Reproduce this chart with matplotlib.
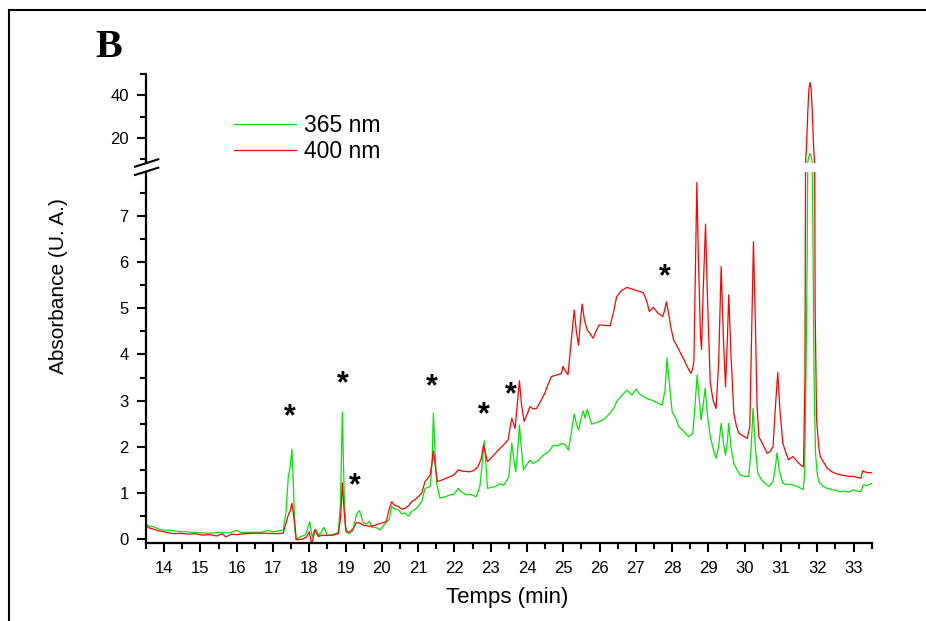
import matplotlib
matplotlib.use("Agg")
import matplotlib.pyplot as plt
from matplotlib.lines import Line2D
from matplotlib.patches import Rectangle
from matplotlib.ticker import MultipleLocator, FixedLocator

plt.rcParams["font.family"] = ["Liberation Sans", "DejaVu Sans"]

# chromatogram at 365 nm (green)
time_365 = [
    13.50, 13.60, 13.70, 13.85, 14.00, 14.20, 14.40, 14.60, 14.80, 15.00,
    15.20, 15.40, 15.60, 15.80, 16.00, 16.10, 16.40, 16.70, 16.85, 17.00,
    17.28, 17.36, 17.42, 17.47, 17.52, 17.56, 17.60, 17.63, 17.75, 17.90,
    18.01, 18.08, 18.17, 18.28, 18.40, 18.50, 18.65, 18.80, 18.86, 18.91,
    18.96, 19.00, 19.08, 19.20, 19.30, 19.38, 19.49, 19.58, 19.66, 19.72,
    19.85, 19.95, 20.05, 20.13, 20.20, 20.27, 20.35, 20.45, 20.55, 20.64,
    20.73, 20.82, 20.92, 21.00, 21.10, 21.19, 21.33, 21.38, 21.42, 21.47,
    21.51, 21.60, 21.75, 21.88, 22.00, 22.10, 22.20, 22.33, 22.45, 22.60,
    22.70, 22.76, 22.82, 22.87, 22.91, 23.00, 23.13, 23.25, 23.36, 23.50,
    23.55, 23.58, 23.64, 23.69, 23.74, 23.79, 23.84, 23.90, 24.00, 24.08,
    24.17, 24.30, 24.45, 24.60, 24.72, 24.85, 24.95, 25.05, 25.14, 25.22,
    25.30, 25.36, 25.42, 25.50, 25.55, 25.60, 25.66, 25.72, 25.78, 25.90,
    26.01, 26.15, 26.29, 26.40, 26.47, 26.60, 26.75, 26.89, 27.01, 27.10,
    27.21, 27.35, 27.44, 27.60, 27.72, 27.80, 27.86, 27.92, 28.00, 28.10,
    28.18, 28.30, 28.45, 28.57, 28.63, 28.69, 28.75, 28.80, 28.86, 28.91,
    28.97, 29.05, 29.15, 29.21, 29.28, 29.35, 29.41, 29.47, 29.52, 29.56,
    29.62, 29.70, 29.80, 29.88, 30.00, 30.11, 30.17, 30.23, 30.29, 30.36,
    30.45, 30.55, 30.66, 30.78, 30.85, 30.89, 30.95, 31.05, 31.15, 31.30,
    31.45, 31.55, 31.61, 31.65, 31.68, 31.72, 31.75, 31.79, 31.83, 31.87,
    31.91, 31.95, 32.00, 32.04, 32.15, 32.27, 32.40, 32.52, 32.64, 32.75,
    32.88, 33.00, 33.10, 33.20, 33.27, 33.35, 33.50,
]
abs_365 = [
    0.32, 0.28, 0.27, 0.22, 0.20, 0.19, 0.17, 0.16, 0.15, 0.14,
    0.13, 0.14, 0.15, 0.14, 0.19, 0.15, 0.15, 0.15, 0.19, 0.16,
    0.20, 0.60, 1.35, 1.55, 1.95, 1.20, 0.25, 0.00, 0.05, 0.10,
    0.38, 0.05, 0.22, 0.08, 0.26, 0.08, 0.10, 0.15, 0.80, 2.75,
    1.00, 0.26, 0.12, 0.18, 0.54, 0.62, 0.35, 0.33, 0.39, 0.26,
    0.25, 0.20, 0.30, 0.38, 0.42, 0.71, 0.66, 0.64, 0.55, 0.57,
    0.50, 0.60, 0.65, 0.71, 0.82, 1.10, 1.14, 1.60, 2.73, 1.80,
    1.21, 0.89, 0.92, 0.96, 0.98, 1.10, 1.02, 0.96, 0.97, 0.92,
    1.14, 1.60, 2.13, 1.60, 1.10, 1.12, 1.14, 1.20, 1.17, 1.35,
    1.80, 2.08, 1.70, 1.46, 1.90, 2.47, 2.00, 1.50, 1.62, 1.71,
    1.64, 1.70, 1.82, 1.90, 2.03, 2.02, 2.07, 2.05, 1.93, 2.30,
    2.71, 2.50, 2.37, 2.65, 2.78, 2.62, 2.81, 2.65, 2.49, 2.52,
    2.55, 2.62, 2.73, 2.85, 2.98, 3.10, 3.23, 3.12, 3.25, 3.14,
    3.09, 3.03, 3.01, 2.95, 2.90, 3.20, 3.92, 3.40, 2.76, 2.62,
    2.44, 2.35, 2.22, 2.29, 2.90, 3.56, 3.00, 2.58, 2.95, 3.27,
    2.70, 2.22, 1.90, 1.75, 2.00, 2.51, 2.10, 1.82, 2.10, 2.51,
    2.00, 1.64, 1.48, 1.39, 1.36, 1.36, 1.90, 2.83, 2.00, 1.43,
    1.30, 1.22, 1.14, 1.25, 1.60, 1.87, 1.50, 1.21, 1.19, 1.18,
    1.14, 1.10, 1.07, 1.40, 3.00, 6.00, 10.0, 12.7, 11.5, 7.50,
    3.50, 1.86, 1.40, 1.25, 1.15, 1.10, 1.08, 1.05, 1.03, 1.04,
    1.02, 1.07, 1.04, 1.03, 1.18, 1.16, 1.21,
]

# chromatogram at 400 nm (red)
time_400 = [
    13.50, 13.60, 13.70, 13.85, 14.00, 14.24, 14.45, 14.65, 14.85, 15.05,
    15.25, 15.45, 15.60, 15.70, 15.85, 16.00, 16.20, 16.50, 16.80, 17.10,
    17.28, 17.36, 17.43, 17.47, 17.52, 17.56, 17.60, 17.64, 17.82, 17.92,
    18.00, 18.07, 18.15, 18.25, 18.38, 18.50, 18.65, 18.80, 18.86, 18.91,
    18.96, 19.01, 19.10, 19.20, 19.30, 19.40, 19.50, 19.67, 19.80, 19.90,
    20.04, 20.12, 20.20, 20.27, 20.35, 20.45, 20.55, 20.64, 20.73, 20.82,
    20.92, 21.00, 21.10, 21.19, 21.33, 21.38, 21.42, 21.47, 21.53, 21.65,
    21.80, 21.93, 22.02, 22.10, 22.25, 22.43, 22.55, 22.65, 22.74, 22.80,
    22.86, 22.91, 23.00, 23.16, 23.30, 23.40, 23.48, 23.53, 23.58, 23.63,
    23.67, 23.73, 23.79, 23.85, 23.92, 24.00, 24.08, 24.17, 24.26, 24.35,
    24.49, 24.58, 24.67, 24.80, 24.95, 24.99, 25.05, 25.13, 25.22, 25.30,
    25.36, 25.42, 25.47, 25.52, 25.58, 25.66, 25.74, 25.82, 25.90, 25.99,
    26.10, 26.29, 26.38, 26.47, 26.60, 26.75, 26.88, 27.02, 27.12, 27.21,
    27.30, 27.37, 27.48, 27.60, 27.74, 27.79, 27.84, 27.90, 27.96, 28.04,
    28.12, 28.23, 28.32, 28.41, 28.52, 28.57, 28.60, 28.64, 28.68, 28.72,
    28.78, 28.81, 28.86, 28.92, 28.97, 29.05, 29.13, 29.21, 29.28, 29.35,
    29.41, 29.47, 29.52, 29.56, 29.62, 29.70, 29.77, 29.84, 29.95, 30.07,
    30.14, 30.19, 30.24, 30.29, 30.34, 30.39, 30.50, 30.62, 30.70, 30.78,
    30.84, 30.91, 30.97, 31.05, 31.13, 31.21, 31.33, 31.45, 31.55, 31.62,
    31.66, 31.70, 31.74, 31.77, 31.80, 31.83, 31.86, 31.90, 31.94, 31.98,
    32.04, 32.08, 32.15, 32.27, 32.40, 32.52, 32.64, 32.75, 32.88, 33.00,
    33.10, 33.20, 33.25, 33.30, 33.40, 33.50,
]
abs_400 = [
    0.29, 0.24, 0.22, 0.18, 0.16, 0.12, 0.13, 0.11, 0.12, 0.09,
    0.10, 0.07, 0.12, 0.05, 0.11, 0.10, 0.12, 0.13, 0.13, 0.12,
    0.13, 0.35, 0.55, 0.60, 0.78, 0.55, 0.33, -0.01, 0.00, 0.05,
    0.16, -0.12, 0.20, 0.06, 0.09, 0.08, 0.09, 0.12, 0.45, 1.22,
    0.60, 0.16, 0.15, 0.22, 0.36, 0.35, 0.30, 0.28, 0.30, 0.33,
    0.36, 0.38, 0.65, 0.81, 0.74, 0.71, 0.65, 0.67, 0.72, 0.81,
    0.86, 0.92, 1.00, 1.25, 1.39, 1.65, 1.91, 1.60, 1.25, 1.28,
    1.33, 1.37, 1.42, 1.50, 1.47, 1.46, 1.50, 1.57, 1.75, 2.04,
    1.85, 1.68, 1.75, 1.89, 2.00, 2.08, 2.15, 2.40, 2.62, 2.50,
    2.40, 2.90, 3.43, 2.90, 2.55, 2.70, 2.87, 2.82, 2.83, 2.95,
    3.16, 3.35, 3.52, 3.55, 3.59, 3.74, 3.65, 3.56, 4.30, 4.96,
    4.50, 4.20, 4.70, 5.09, 4.75, 4.53, 4.45, 4.35, 4.50, 4.64,
    4.63, 4.62, 4.90, 5.25, 5.38, 5.45, 5.42, 5.38, 5.36, 5.33,
    5.15, 4.93, 5.02, 4.90, 4.82, 4.95, 5.14, 4.90, 4.60, 4.31,
    4.20, 4.03, 3.90, 3.74, 3.59, 3.70, 3.88, 5.80, 7.72, 6.20,
    4.40, 4.11, 5.50, 6.82, 5.30, 3.38, 3.00, 2.83, 3.80, 5.90,
    4.40, 3.30, 4.30, 5.29, 4.00, 2.73, 2.45, 2.29, 2.24, 2.18,
    2.44, 4.50, 6.44, 4.80, 2.90, 2.22, 2.05, 1.86, 1.90, 2.00,
    2.80, 3.61, 2.80, 2.08, 1.88, 1.72, 1.79, 1.68, 1.60, 1.57,
    3.50, 15.0, 33.0, 43.0, 46.0, 43.0, 33.0, 15.0, 5.00, 2.60,
    2.00, 1.79, 1.70, 1.54, 1.46, 1.42, 1.39, 1.38, 1.36, 1.36,
    1.34, 1.32, 1.48, 1.46, 1.44, 1.44,
]

# asterisks marking peaks
star_x = [17.47, 18.93, 19.26, 21.38, 22.82, 23.54, 27.81]
star_y = [2.78, 3.50, 1.29, 3.45, 2.84, 3.27, 5.83]

series = [
    ("365 nm", time_365, abs_365, "#00e600"),
    ("400 nm", time_400, abs_400, "#ff0000"),
]

fig = plt.figure(figsize=(9.26, 6.21), dpi=100)
ax_low = fig.add_axes([0.1577, 0.1261, 0.7837, 0.597])
ax_top = fig.add_axes([0.1577, 0.7375, 0.7837, 0.1433], sharex=ax_low)

handles = []
for label, t, a, color in series:
    line, = ax_low.plot(t, a, color=color, lw=0.9, label=label)
    ax_top.plot(t, a, color=color, lw=0.9)
    handles.append(line)

for x, y in zip(star_x, star_y):
    # the glyph sits high in its box, so nudge it down onto the read position
    ax_low.annotate("*", (x, y), xytext=(0, -5), textcoords="offset points",
                    ha="center", va="center", fontsize=22, fontweight="bold")

ax_low.set_xlim(13.5, 33.5)
ax_low.set_ylim(-0.075, 7.95)
ax_top.set_ylim(8.2, 50)

ax_low.xaxis.set_major_locator(MultipleLocator(1))
ax_low.xaxis.set_minor_locator(MultipleLocator(0.5))
ax_low.yaxis.set_major_locator(MultipleLocator(1))
ax_low.yaxis.set_minor_locator(MultipleLocator(0.5))
ax_top.yaxis.set_major_locator(FixedLocator([20, 40]))
ax_top.yaxis.set_minor_locator(FixedLocator([10, 30, 50]))

for ax in (ax_low, ax_top):
    ax.spines["top"].set_visible(False)
    ax.spines["right"].set_visible(False)
    ax.spines["left"].set_linewidth(1.6)
    ax.spines["bottom"].set_linewidth(1.6)
    ax.tick_params(which="major", length=6.5, width=1.5, labelsize=12, pad=6)
    ax.tick_params(which="minor", length=4, width=1.5)
    ax.patch.set_visible(False)

ax_top.spines["bottom"].set_visible(False)
ax_top.tick_params(axis="x", which="both", bottom=False, labelbottom=False)
ax_low.tick_params(axis="x", which="major", pad=7)

# break marks on the y axis
for y0, y1 in [(166.7, 159.3), (175.0, 167.7)]:
    fig.add_artist(Line2D([135 / 926, 158.3 / 926], [1 - y0 / 621, 1 - y1 / 621],
                          color="black", lw=1.5, transform=fig.transFigure))

fig.legend(handles=handles, loc="upper left", bbox_to_anchor=(0.2527, 0.8164),
           frameon=False, fontsize=16.5, handlelength=2.7, handletextpad=0.35,
           labelspacing=0.15, borderpad=0, borderaxespad=0)

fig.text(59 / 926, 1 - 286 / 621, "Absorbance (U. A.)", rotation=90,
         ha="center", va="center", fontsize=15)
fig.text(507 / 926, 1 - 598 / 621, "Temps (min)", ha="center", va="center", fontsize=16)
fig.text(95 / 926, 1 - 57 / 621, "B", family="Liberation Serif", fontweight="bold",
         fontsize=29, ha="left", va="baseline")

# panel frame (only top and left edges fall inside the image)
fig.add_artist(Rectangle((9 / 926, -0.2), 1.2, 1.2 - 10 / 621,
                         fill=False, lw=1.5, edgecolor="black", transform=fig.transFigure))

fig.savefig("out.png", dpi=100)
